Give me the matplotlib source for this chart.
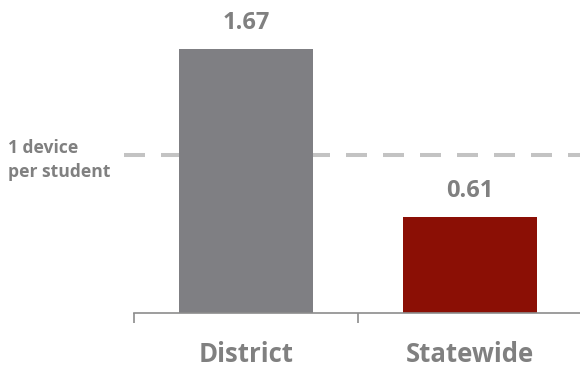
import matplotlib.pyplot as plt

categories = ["District", "Statewide"]
values = [1.67, 0.61]
bar_colors = ["#7f7f83", "#8b0f05"]
reference = 1.0
reference_label = "1 device\nper student"

text_color = "#808080"
plt.rcParams['font.family'] = ['Open Sans', 'DejaVu Sans']

fig = plt.figure(figsize=(5.8, 3.7), dpi=100)
ax = fig.add_axes([134 / 580, 57 / 370, 448 / 580, 300 / 370])

x = list(range(len(categories)))
ax.bar(x, values, width=0.6, color=bar_colors, zorder=2)

lw = 2.9
ax.axhline(reference, xmin=-0.023, xmax=1.0, color="#c3c3c3", linewidth=lw,
           linestyle=(0, (21 * 0.72 / lw, 16 * 0.72 / lw)), clip_on=False, zorder=1)
ax.text(8 / 580, 1 - 160 / 370, reference_label, transform=fig.transFigure,
        ha="left", va="center", fontsize=12.6, fontweight="bold", color=text_color,
        linespacing=1.45)

for xi, v in zip(x, values):
    ax.annotate(f"{v:.2f}", (xi, v), xytext=(0, 14.4), textcoords="offset points",
                ha="center", va="baseline", fontsize=17, fontweight="bold",
                color=text_color)

ax.set_xlim(-0.5, 1.5)
ax.set_ylim(0, 1.9)
ax.set_xticks([-0.5, 0.5])
ax.set_xticklabels([])
ax.tick_params(axis="x", length=7, width=1.2, color="#8c8c8c", direction="out")
ax.set_xticks(x, minor=True)
ax.set_xticklabels(categories, minor=True)
ax.tick_params(axis="x", which="minor", length=0, pad=20, labelsize=18.5,
               labelcolor=text_color)
for lbl in ax.get_xticklabels(minor=True):
    lbl.set_fontweight("bold")
ax.set_yticks([])
for side in ["top", "right", "left"]:
    ax.spines[side].set_visible(False)
ax.spines["bottom"].set_color("#8c8c8c")
ax.spines["bottom"].set_linewidth(1.2)

fig.savefig("out.png", dpi=100)
